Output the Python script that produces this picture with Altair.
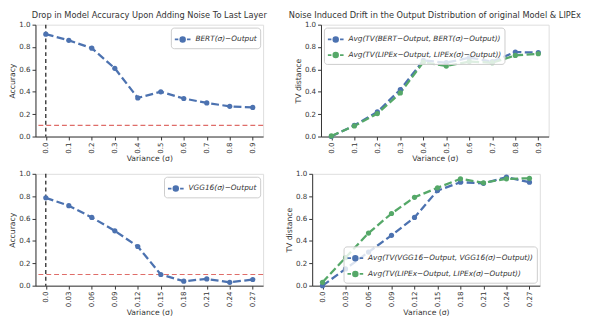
import altair as alt
import pandas as pd

FONT = "DejaVu Sans"
BLUE = "#4c72b0"
GREEN = "#55a868"

# ---- data ----
x_top = [0.0, 0.1, 0.2, 0.3, 0.4, 0.5, 0.6, 0.7, 0.8, 0.9]
x_bot = [0.0, 0.03, 0.06, 0.09, 0.12, 0.15, 0.18, 0.21, 0.24, 0.27]

bert_acc = [0.915, 0.86, 0.79, 0.61, 0.345, 0.40, 0.34, 0.30, 0.27, 0.26]
vgg_acc = [0.785, 0.715, 0.61, 0.49, 0.35, 0.10, 0.04, 0.06, 0.03, 0.055]

tv_bert = [0.0, 0.10, 0.22, 0.42, 0.68, 0.66, 0.705, 0.67, 0.755, 0.75]
tv_lipex_top = [0.005, 0.095, 0.205, 0.39, 0.665, 0.63, 0.67, 0.66, 0.725, 0.74]
tv_vgg = [0.0, 0.15, 0.30, 0.45, 0.61, 0.85, 0.925, 0.915, 0.97, 0.925]
tv_lipex_bot = [0.03, 0.25, 0.47, 0.645, 0.79, 0.875, 0.955, 0.92, 0.955, 0.96]

baseline = 0.1

lab_bert = "BERT(σ)−Output"
lab_vgg = "VGG16(σ)−Output"
lab_tv_bert = "Avg(TV(BERT−Output, BERT(σ)−Output))"
lab_tv_lipex_top = "Avg(TV(LIPEx−Output, LIPEx(σ)−Output))"
lab_tv_vgg = "Avg(TV(VGG16−Output, VGG16(σ)−Output))"
lab_tv_lipex_bot = "Avg(TV(LIPEx−Output, LIPEx(σ)−Output))"

title_top_left = "Drop in Model Accuracy Upon Adding Noise To Last Layer"
title_top_right = "Noise Induced Drift in the Output Distribution of original Model & LIPEx"

W, H = 232, 114
SYMBOL = ("M-1,0H-0.55M-0.3,0H0.3M0.55,0H1"
          "M0.3,0A0.3,0.3,0,1,1,-0.3,0A0.3,0.3,0,1,1,0.3,0Z")

AX = dict(labelFont=FONT, titleFont=FONT, labelFontSize=7.2, titleFontSize=7.8,
          labelColor="#333", titleColor="#333", titleFontWeight="normal",
          domainColor="#333", tickColor="#333", tickSize=3.5, grid=False,
          labelOverlap=False, labelFlush=False, labelPadding=2, titlePadding=2)


def xaxis(bottom):
    if bottom:
        return alt.Axis(values=x_bot, labelAngle=270,
                        labelExpr="datum.value == 0 ? '0.0' : format(datum.value, '.2f')",
                        title="Variance (σ)", **AX)
    return alt.Axis(values=x_top, labelAngle=270, format=".1f", title="Variance (σ)", **AX)


def xscale(bottom):
    xs = x_bot if bottom else x_top
    pad = (max(xs) - min(xs)) * 0.05
    return alt.Scale(domain=[min(xs) - pad, max(xs) + pad], nice=False, zero=False)


def yaxis(title):
    return alt.Axis(values=[0, 0.2, 0.4, 0.6, 0.8, 1.0], format=".1f", title=title, **AX)


def panel(xs, series, labels, colors, ytitle, bottom, legend_orient, title=None, refs=False):
    rows = []
    for vals, lab in zip(series, labels):
        for xv, yv in zip(xs, vals):
            rows.append({"x": xv, "y": yv, "s": lab})
    df = pd.DataFrame(rows)
    color = alt.Color("s:N", scale=alt.Scale(domain=labels, range=colors),
                      legend=alt.Legend(title=None, orient=legend_orient, symbolType=SYMBOL,
                                        symbolSize=256, symbolStrokeWidth=1.8,
                                        labelFont=FONT, labelFontSize=7.5,
                                        labelFontStyle="italic", labelColor="#333",
                                        fillColor="rgba(255,255,255,0.8)",
                                        strokeColor="#cccccc", cornerRadius=3,
                                        padding=3, offset=3, rowPadding=1,
                                        labelLimit=400))
    yscale = alt.Scale(domain=[0, 1], nice=False)
    x = alt.X("x:Q", scale=xscale(bottom), axis=xaxis(bottom))
    y = alt.Y("y:Q", scale=yscale, axis=yaxis(ytitle))
    base = alt.Chart(df)
    line = base.mark_line(strokeDash=[8, 3.5], strokeWidth=2.3).encode(
        x=x, y=y, color=color, order="x:Q")
    pts = base.mark_point(filled=True, size=28, opacity=1).encode(x=x, y=y, color=color)
    layers = [line, pts]
    if refs:
        ref_df = pd.DataFrame({"x": [xs[0]], "y": [baseline]})
        hline = alt.Chart(ref_df).mark_rule(color="#d9534f", strokeDash=[5, 3],
                                            strokeWidth=1.1, opacity=0.85).encode(
            y=alt.Y("y:Q", scale=yscale, axis=yaxis(ytitle)))
        vline = alt.Chart(ref_df).mark_rule(color="black", strokeDash=[4, 3],
                                            strokeWidth=1.1).encode(
            x=alt.X("x:Q", scale=xscale(bottom), axis=xaxis(bottom)))
        layers = [line, hline, vline, pts]
    ch = alt.layer(*layers).properties(width=W, height=H)
    if title:
        ch = ch.properties(title=alt.TitleParams(title, fontSize=8.4, font=FONT,
                                                 fontWeight="normal", color="#333",
                                                 offset=1))
    return ch


tl = panel(x_top, [bert_acc], [lab_bert], [BLUE], "Accuracy", False, "top-right",
           title=title_top_left, refs=True)
tr = panel(x_top, [tv_bert, tv_lipex_top], [lab_tv_bert, lab_tv_lipex_top], [BLUE, GREEN],
           "TV distance", False, "top-left", title=title_top_right)
bl = panel(x_bot, [vgg_acc], [lab_vgg], [BLUE], "Accuracy", True, "top-right", refs=True)
br = panel(x_bot, [tv_vgg, tv_lipex_bot], [lab_tv_vgg, lab_tv_lipex_bot], [BLUE, GREEN],
           "TV distance", True, "bottom-right")

top = alt.hconcat(tl, tr, spacing=20).resolve_scale(color="independent")
bot = alt.hconcat(bl, br, spacing=20).resolve_scale(color="independent")
chart = alt.vconcat(top, bot, spacing=5).resolve_scale(color="independent").configure_view(
    stroke="#333", strokeWidth=1.1
).configure(padding=0)

chart.save("out.html", embed_options={"renderer": "svg", "actions": False})
